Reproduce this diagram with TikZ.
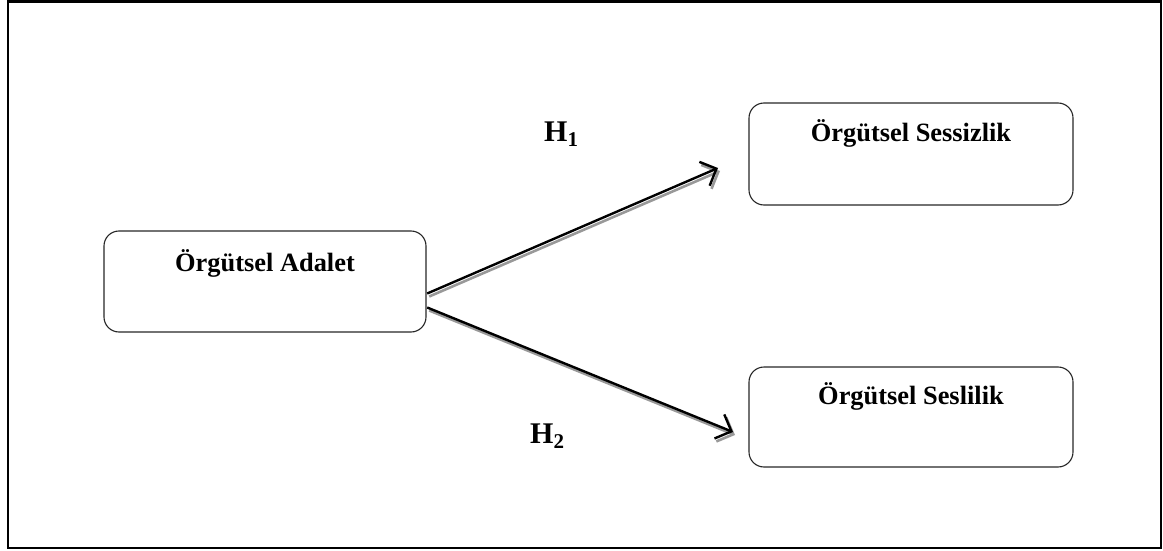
\documentclass[tikz,border=0pt]{standalone}
\usepackage{fontspec}
\setmainfont{Liberation Serif}
\usetikzlibrary{arrows.meta,calc}

\tikzset{
  frame/.style={draw=black,line width=2.4pt},
  conceptbox/.style={draw=black!85,line width=1.1pt,rounded corners=15pt,
    minimum width=#1,inner sep=0pt},
  boxlabel/.style={anchor=base,font=\fontsize{26.4}{30}\selectfont\bfseries,inner sep=0pt},
  hyp/.style={anchor=base west,font=\fontsize{30}{34}\selectfont\bfseries,inner sep=0pt},
  link/.style={draw=black,line width=2.4pt,
    -{Straight Barb[length=13pt,width=26pt,line width=2.4pt]}},
  linkshadow/.style={draw=black!40,line width=2.6pt,
    -{Straight Barb[length=13pt,width=26pt,line width=2.6pt]}},
}
\newcommand{\hsub}[1]{\raisebox{-5pt}{\fontsize{21}{24}\selectfont #1}}

\begin{document}
\begin{tikzpicture}[x=1pt,y=-1pt]
  \useasboundingbox (0,0) rectangle (1163,551);

  % outer frame
  \draw[frame] (8,1.5) rectangle (1161,548);

  % concept boxes
  \draw[conceptbox] (104,231) rectangle (426,332);
  \draw[conceptbox] (749,103) rectangle (1073,205);
  \draw[conceptbox] (749,367) rectangle (1073,467);

  \node (adalet) [minimum width=322pt,minimum height=101pt] at (265,281.5) {};
  \node (sessizlik) [minimum width=324pt,minimum height=102pt] at (911,154) {};
  \node (seslilik) [minimum width=324pt,minimum height=100pt] at (911,417) {};

  \node[boxlabel] (la) at (265,271) {Örgütsel Adalet};
  \node[boxlabel] (ls) at (911,142) {Örgütsel Sessizlik};
  \node[boxlabel] (ll) at (911,404) {Örgütsel Seslilik};

  % arrow ends
  \coordinate (s1) at ($(adalet.east)+(1,12)$);
  \coordinate (s2) at ($(adalet.east)+(1,26)$);
  \coordinate (t1) at (718,168);
  \coordinate (t2) at (733,432);

  % shadows under the arrows
  \draw[linkshadow] ($(s1)+(2,3)$) -- ($(t1)+(2,3)$);
  \draw[linkshadow] ($(s2)+(2,3)$) -- ($(t2)+(2,3)$);
  % arrows
  \draw[link] (s1) -- (t1);
  \draw[link] (s2) -- (t2);

  % hypothesis labels
  \node[hyp] (h1) at (544,142) {H\hsub{1}};
  \node[hyp] (h2) at (530,443) {H\hsub{2}};
\end{tikzpicture}
\end{document}
